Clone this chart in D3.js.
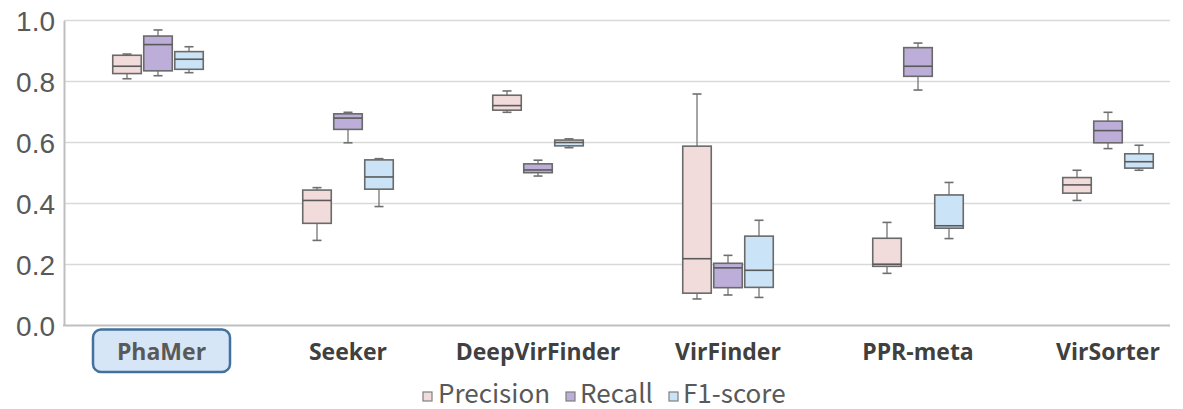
<!DOCTYPE html>
<html>
<head>
<meta charset="utf-8">
<script src="https://cdn.jsdelivr.net/npm/d3@7"></script>
<style>
  html, body { margin: 0; padding: 0; background: #fff; }
  svg { display: block; }
</style>
</head>
<body>
<svg id="chart" width="1183" height="409"></svg>
<script>
// Tools compared on the benchmark
const categories = ["PhaMer", "Seeker", "DeepVirFinder", "VirFinder", "PPR-meta", "VirSorter"];
const seriesNames = ["Precision", "Recall", "F1-score"];

// Five-number summaries per tool: [min, q1, median, q3, max]
const precisionStats = [
  [0.809, 0.826, 0.850, 0.886, 0.890],
  [0.279, 0.335, 0.410, 0.444, 0.452],
  [0.699, 0.706, 0.721, 0.755, 0.769],
  [0.087, 0.106, 0.219, 0.588, 0.759],
  [0.171, 0.194, 0.201, 0.286, 0.338],
  [0.410, 0.434, 0.461, 0.485, 0.509]
];
const recallStats = [
  [0.819, 0.835, 0.921, 0.949, 0.969],
  [0.599, 0.643, 0.680, 0.694, 0.699],
  [0.490, 0.501, 0.510, 0.530, 0.542],
  [0.100, 0.124, 0.189, 0.204, 0.230],
  [0.772, 0.817, 0.850, 0.911, 0.926],
  [0.580, 0.599, 0.639, 0.670, 0.699]
];
const f1Stats = [
  [0.829, 0.840, 0.873, 0.898, 0.914],
  [0.390, 0.447, 0.487, 0.543, 0.547],
  [0.583, 0.589, 0.600, 0.608, 0.612],
  [0.092, 0.125, 0.181, 0.293, 0.345],
  [0.285, 0.319, 0.327, 0.428, 0.469],
  [0.509, 0.516, 0.537, 0.563, 0.591]
];
const yTicks = [0, 0.2, 0.4, 0.6, 0.8, 1.0];

const seriesStats = [precisionStats, recallStats, f1Stats];
const fills = ["#f2dcdb", "#bcaed8", "#cbe3f6"];
const highlighted = "PhaMer";

const svg = d3.select("#chart");
const plot = { left: 64, right: 1170, top: 20.5, bottom: 325.5 };

const y = d3.scaleLinear().domain([0, 1]).range([plot.bottom, plot.top]);
const x = d3.scaleBand().domain(categories).range([63, 1203]);
const inner = d3.scaleBand().domain(seriesNames).range([-46.5, 46.5])
  .paddingInner(0.08).paddingOuter(0.04);

// Horizontal gridlines
svg.append("g").selectAll("line").data(yTicks.filter(d => d > 0)).join("line")
  .attr("x1", plot.left).attr("x2", plot.right)
  .attr("y1", d => y(d)).attr("y2", d => y(d))
  .attr("stroke", "#d9d9d9").attr("stroke-width", 1.5);

// Y axis with tick labels
const yAxis = svg.append("g")
  .attr("transform", `translate(${plot.left},0)`)
  .call(d3.axisLeft(y).tickValues(yTicks).tickFormat(d3.format(".1f")).tickSize(0).tickPadding(9));
yAxis.select(".domain").attr("stroke", "#bfbfbf").attr("stroke-width", 2);
yAxis.selectAll("text")
  .attr("font-family", "'Liberation Sans', Arial, sans-serif")
  .attr("font-size", 28).attr("fill", "#595959").attr("dy", "0.34em");

// Baseline
svg.append("line")
  .attr("x1", plot.left - 1).attr("x2", plot.right)
  .attr("y1", y(0)).attr("y2", y(0))
  .attr("stroke", "#bfbfbf").attr("stroke-width", 2.2);

// Box plots
const boxes = [];
categories.forEach((c, ci) => {
  seriesNames.forEach((s, si) => {
    const [mn, q1, med, q3, mx] = seriesStats[si][ci];
    boxes.push({ c, s, si, mn, q1, med, q3, mx });
  });
});

const bw = inner.bandwidth();
const capW = 9;
const g = svg.append("g").selectAll("g").data(boxes).join("g")
  .attr("transform", d => `translate(${x(d.c) + x.bandwidth() / 2 + inner(d.s) + bw / 2},0)`);

// whiskers
g.append("line").attr("x1", 0).attr("x2", 0)
  .attr("y1", d => y(d.mx)).attr("y2", d => y(d.q3))
  .attr("stroke", "#7f7f7f").attr("stroke-width", 1.4);
g.append("line").attr("x1", 0).attr("x2", 0)
  .attr("y1", d => y(d.q1)).attr("y2", d => y(d.mn))
  .attr("stroke", "#7f7f7f").attr("stroke-width", 1.4);
g.append("line").attr("x1", -capW / 2).attr("x2", capW / 2)
  .attr("y1", d => y(d.mx)).attr("y2", d => y(d.mx))
  .attr("stroke", "#6f6f6f").attr("stroke-width", 1.6);
g.append("line").attr("x1", -capW / 2).attr("x2", capW / 2)
  .attr("y1", d => y(d.mn)).attr("y2", d => y(d.mn))
  .attr("stroke", "#6f6f6f").attr("stroke-width", 1.6);

// box
g.append("rect")
  .attr("x", -bw / 2).attr("width", bw)
  .attr("y", d => y(d.q3)).attr("height", d => y(d.q1) - y(d.q3))
  .attr("fill", d => fills[d.si])
  .attr("stroke", "#6a6a6a").attr("stroke-width", 1.6);

// median
g.append("line").attr("x1", -bw / 2).attr("x2", bw / 2)
  .attr("y1", d => y(d.med)).attr("y2", d => y(d.med))
  .attr("stroke", "#5a5a5a").attr("stroke-width", 1.6);

// Category labels
const labelY = 360;
svg.append("rect")
  .attr("x", 93).attr("y", 329.5).attr("width", 137).attr("height", 42.5)
  .attr("rx", 8).attr("ry", 8)
  .attr("fill", "#d6e6f6").attr("stroke", "#41719c").attr("stroke-width", 2.5);

svg.append("g").selectAll("text").data(categories).join("text")
  .attr("x", d => (d === highlighted ? 161.5 : x(d) + x.bandwidth() / 2))
  .attr("y", labelY)
  .attr("text-anchor", "middle")
  .attr("font-family", "'Open Sans', 'Noto Sans', sans-serif")
  .attr("font-weight", 700)
  .attr("font-size", 23)
  .attr("fill", d => (d === highlighted ? "#595959" : "#404040"))
  .text(d => d);

// Legend
const legendItems = [
  { name: "Precision", mx: 423, tx: 438 },
  { name: "Recall", mx: 566, tx: 580 },
  { name: "F1-score", mx: 669, tx: 683 }
];
const lg = svg.append("g").selectAll("g").data(legendItems).join("g");
lg.append("rect")
  .attr("x", d => d.mx).attr("y", 392).attr("width", 9).attr("height", 9)
  .attr("fill", (d, i) => fills[i]).attr("stroke", "#7f7f7f").attr("stroke-width", 1.2);
lg.append("text")
  .attr("x", d => d.tx).attr("y", 403)
  .attr("font-family", "'Noto Sans CJK SC', 'Noto Sans', sans-serif")
  .attr("font-size", 26)
  .attr("fill", "#595959")
  .text(d => d.name);
</script>
</body>
</html>
